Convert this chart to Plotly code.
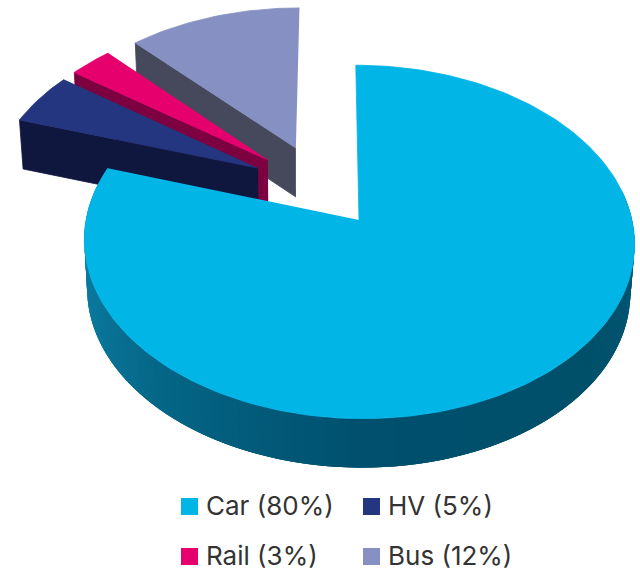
import numpy as np
import plotly.graph_objects as go

categories = ["Car", "HV", "Rail", "Bus"]
shares = [80, 5, 3, 12]
top_colors = ["#02B5E7", "#24367F", "#E6006E", "#8790C2"]
wall_colors = ["#005A78", "#10173F", "#7D0040", "#46485C"]
explode_u = [0.0, -0.380, -0.344, -0.238]
explode_v = [0.0, 0.310, 0.360, 0.436]
draw_order = ["Bus", "Rail", "HV", "Car"]

# car rim shading: angle clockwise from 12 o'clock -> colour
rim_angles = [80, 130, 180, 215, 250, 290]
rim_rgb = [(0, 92, 122), (0, 80, 106), (0, 80, 110), (4, 98, 130), (10, 120, 156), (14, 128, 164)]

# projection of the pie plane on to the page
X0, Y0, XV = 359.0, 220.0, 330.0
RX, RY, PERSP, DEPTH = 273.0, 174.0, 0.124, 49.0


def project(u, v, drop=False):
    u, v = np.asarray(u, float), np.asarray(v, float)
    w = 1 + PERSP * v
    x = XV + (X0 - XV + RX * u) / w
    y = Y0 - RY * v / w
    if drop:
        x = 300 + (x - 300) * 0.987
        y = y + DEPTH
    return x, y


def polar(theta_deg):
    t = np.radians(theta_deg)
    return np.sin(t), np.cos(t)


fig = go.Figure()


def poly(x, y, color, edge=True):
    fig.add_trace(go.Scatter(x=list(x), y=list(y), mode="lines", fill="toself", fillcolor=color,
                             line=dict(color=color, width=0.8 if edge else 0), hoverinfo="skip",
                             showlegend=False))


starts = np.cumsum([0] + shares[:-1]) * 3.6
for name in draw_order:
    i = categories.index(name)
    a0, a1 = starts[i], starts[i] + shares[i] * 3.6
    du, dv = explode_u[i], explode_v[i]
    th = np.linspace(a0, a1, max(12, int(shares[i] * 3)))
    su, sv = polar(th)
    if name == "Car":
        for a in np.arange(80.0, 288.0, 1.0):
            seg = np.linspace(a, min(a + 3.0, 288.0), 4)
            uu, vv = polar(seg)
            xt, yt = project(uu, vv)
            xb, yb = project(uu, vv, drop=True)
            mid = a + 0.5
            rgb = [round(float(np.interp(mid, rim_angles, [c[k] for c in rim_rgb]))) for k in range(3)]
            col = "rgb(%d,%d,%d)" % tuple(rgb)
            poly(np.r_[xt, xb[::-1]], np.r_[yt, yb[::-1]], col, edge=False)
    else:
        # cut face on the leading edge, facing the viewer
        uu = np.array([du, du + su[0]])
        vv = np.array([dv, dv + sv[0]])
        xt, yt = project(uu, vv)
        xb, yb = project(uu, vv, drop=True)
        poly(np.r_[xt, xb[::-1]], np.r_[yt, yb[::-1]], wall_colors[i])
    xs, ys = project(np.r_[du, du + su], np.r_[dv, dv + sv])
    poly(xs, ys, top_colors[i])

# legend
legend_x = [181, 363, 181, 363]
legend_y = [506.5, 506.5, 556.5, 556.5]
legend_order = ["Car", "HV", "Rail", "Bus"]
for name, lx, ly in zip(legend_order, legend_x, legend_y):
    i = categories.index(name)
    fig.add_trace(go.Scatter(x=[lx + 8.5], y=[ly], mode="markers",
                             marker=dict(symbol="square", size=17, color=top_colors[i]),
                             hoverinfo="skip", showlegend=False))
    fig.add_annotation(x=lx + 23, y=ly - 1, xanchor="left", yanchor="middle", showarrow=False,
                       text=f"{name} ({shares[i]}%)", xref="x", yref="y",
                       font=dict(family="Inter", size=26, color="#333333"))

fig.update_layout(
    width=640, height=571, margin=dict(l=0, r=0, t=0, b=0),
    paper_bgcolor="white", plot_bgcolor="white", showlegend=False,
    xaxis=dict(range=[0, 640], visible=False, fixedrange=True),
    yaxis=dict(range=[571, 0], visible=False, fixedrange=True),
)
fig.write_html("out.html", config={"displayModeBar": False},
               post_script="document.body.style.margin='0';document.documentElement.style.overflow='hidden';")
